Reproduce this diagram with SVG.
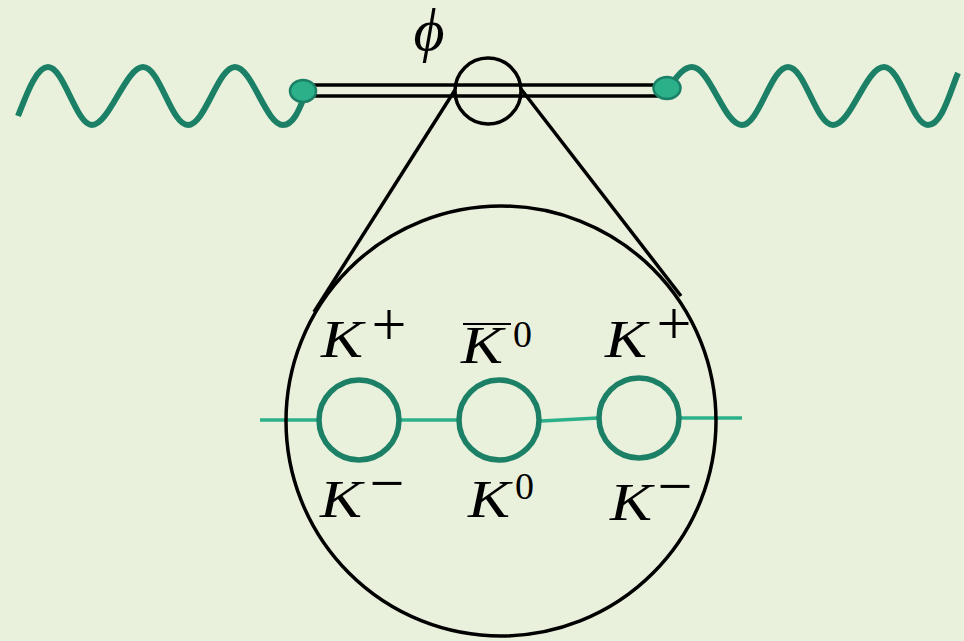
<svg xmlns="http://www.w3.org/2000/svg" width="964" height="641" viewBox="0 0 964 641">
<style>
.bg{fill:#e9f1dc}
.wave{fill:none;stroke:#1b8066;stroke-width:6;stroke-linecap:butt;stroke-linejoin:round}
.dot{fill:#2bb08a;stroke:#1b8066;stroke-width:2.5}
.blk{fill:none;stroke:#000;stroke-width:3.5}
.loop{fill:none;stroke:#1b8066;stroke-width:5.5}
.prop{fill:none;stroke:#2bb08a;stroke-width:3.5}
.k{font-family:"Liberation Serif",serif;font-style:italic;font-size:52px;fill:#000}
.sup{font-family:"Liberation Serif",serif;font-size:62px;fill:#000;text-anchor:middle}
.zero{font-family:"Liberation Serif",serif;font-size:38px;fill:#000}
.phi{font-family:"Liberation Serif",serif;font-style:italic;font-size:60px;fill:#000;text-anchor:middle}
</style>
<rect class="bg" x="0" y="0" width="964" height="641"/>
<g id="connectors">
<path id="wave-left" class="wave" d="M18,116 C26,96 36,67 48,67 C64,67 76,125 92,125 C109,125 126,67 143,67 C160,67 171,125 188,125 C205,125 218,67 235,67 C252,67 266,125 283,125 C293,125 299,110 303,100"/>
<path id="wave-right" class="wave" d="M670,86 C676,78 683,67 692,67 C710,67 724,125 742,125 C759,125 771,67 788,67 C805,67 816,125 833,125 C851,125 866,67 884,67 C901,67 912,125 928,125 C942,125 950,92 958,73"/>
<line class="blk" x1="303" y1="85" x2="667" y2="85"/>
<line class="blk" x1="303" y1="96" x2="667" y2="96"/>
<line class="blk" x1="455" y1="90" x2="314" y2="312"/>
<line class="blk" x1="521" y1="89" x2="681" y2="296"/>
<line class="prop" x1="260" y1="420" x2="317" y2="420"/>
<line class="prop" x1="401" y1="420" x2="458" y2="420"/>
<line class="prop" x1="541" y1="421" x2="598" y2="418"/>
<line class="prop" x1="681" y1="418" x2="742" y2="418"/>
</g>
<g id="vertex-left"><ellipse class="dot" cx="303" cy="91" rx="13" ry="11"/></g>
<g id="vertex-right"><ellipse class="dot" cx="667" cy="88" rx="13.5" ry="11"/></g>
<g id="phi-blob"><circle class="blk" cx="488" cy="91" r="33"/></g>
<g id="phi-label"><text class="phi" x="429" y="50">ϕ</text></g>
<g id="zoom-circle"><circle class="blk" cx="501" cy="421" r="215"/></g>
<g id="loop1">
<circle class="loop" cx="359" cy="420" r="40"/>
<text class="k" x="321" y="357" textLength="42" lengthAdjust="spacingAndGlyphs">K</text><text class="sup" x="389" y="345">+</text>
<text class="k" x="320" y="517" textLength="42" lengthAdjust="spacingAndGlyphs">K</text><text class="sup" x="387" y="504">−</text>
</g>
<g id="loop2">
<circle class="loop" cx="499" cy="420" r="40"/>
<line x1="463" y1="324" x2="511" y2="324" stroke="#000" stroke-width="2"/>
<text class="k" x="461" y="363" textLength="42" lengthAdjust="spacingAndGlyphs">K</text><text class="zero" x="513" y="347">0</text>
<text class="k" x="468" y="517" textLength="42" lengthAdjust="spacingAndGlyphs">K</text><text class="zero" x="515" y="499">0</text>
</g>
<g id="loop3">
<circle class="loop" cx="639" cy="418" r="40"/>
<text class="k" x="605" y="357" textLength="42" lengthAdjust="spacingAndGlyphs">K</text><text class="sup" x="674" y="344">+</text>
<text class="k" x="610" y="520" textLength="42" lengthAdjust="spacingAndGlyphs">K</text><text class="sup" x="675" y="507">−</text>
</g>
</svg>
